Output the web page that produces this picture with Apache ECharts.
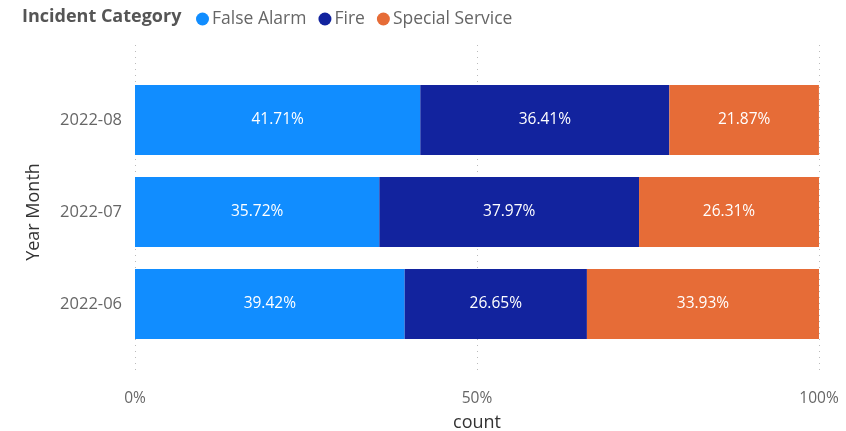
<!DOCTYPE html>
<html>
<head>
<meta charset="utf-8">
<script src="https://cdn.jsdelivr.net/npm/echarts@6/dist/echarts.min.js"></script>
<style>
  html, body { margin: 0; padding: 0; background: #fff; }
  #chart { width: 846px; height: 431px; }
</style>
</head>
<body>
<div id="chart"></div>
<script>
// year-months, bottom to top
var months = ['2022-06', '2022-07', '2022-08'];
var seriesNames = ['False Alarm', 'Fire', 'Special Service'];
var falseAlarm = [39.42, 35.72, 41.71];
var fire = [26.65, 37.97, 36.41];
var specialService = [33.93, 26.31, 21.87];
var xTicks = [0, 50, 100];

var colors = ['#118DFF', '#12239E', '#E66C37'];
var font = '"Open Sans", "Noto Sans", sans-serif';

function mkSeries(name, data, i) {
    return {
        name: name,
        type: 'bar',
        stack: 'total',
        barWidth: 70,
        xAxisIndex: 0,
        yAxisIndex: 0,
        data: data,
        itemStyle: { color: colors[i] },
        label: {
            show: true,
            position: 'inside',
            color: '#fff',
            fontFamily: font,
            fontSize: 15.5,
            formatter: function(p) { return p.value.toFixed(2) + '%'; }
        }
    };
}

var chart = echarts.init(document.getElementById('chart'));
chart.setOption({
    animation: false,
    textStyle: { fontFamily: font },
    title: {
        text: 'Incident Category',
        left: 17,
        top: 3,
        textStyle: { fontSize: 18, fontWeight: 'bold', color: '#555', fontFamily: font }
    },
    legend: {
        data: seriesNames,
        left: 191,
        top: 5,
        icon: 'circle',
        itemWidth: 13,
        itemHeight: 13,
        itemGap: 12,
        textStyle: { fontSize: 17.5, color: '#666', fontFamily: font, padding: [0, 0, 0, -2] }
    },
    grid: [
        { left: 135, right: 27, top: 74, height: 276, outerBoundsMode: 'none' },
        { left: 135, right: 27, top: 45, bottom: 61, outerBoundsMode: 'none' }
    ],
    xAxis: [
        {
            type: 'value', gridIndex: 0, min: 0, max: 100, interval: 50,
            axisLine: { show: false }, axisTick: { show: false },
            axisLabel: { show: false }, splitLine: { show: false }
        },
        {
            type: 'value', gridIndex: 1, min: 0, max: 100, interval: 50,
            name: 'count', nameLocation: 'middle', nameGap: 44,
            nameTextStyle: { fontSize: 18, color: '#333', fontFamily: font },
            axisLine: { show: false }, axisTick: { show: false },
            axisLabel: {
                color: '#666', fontSize: 15.5, margin: 21, fontFamily: font,
                formatter: function(v) { return v + '%'; },
                customValues: xTicks
            },
            splitLine: { show: true, lineStyle: { type: [1, 5], color: '#bbb', width: 1 } }
        }
    ],
    yAxis: [
        {
            type: 'category', gridIndex: 0, data: months,
            name: 'Year Month', nameLocation: 'middle', nameGap: 92,
            nameTextStyle: { fontSize: 18, color: '#333', fontFamily: font },
            axisLine: { show: false }, axisTick: { show: false },
            axisLabel: { color: '#666', fontSize: 16.5, margin: 13, fontFamily: font }
        },
        {
            type: 'category', gridIndex: 1, data: months, show: false
        }
    ],
    series: [
        mkSeries(seriesNames[0], falseAlarm, 0),
        mkSeries(seriesNames[1], fire, 1),
        mkSeries(seriesNames[2], specialService, 2)
    ]
});
</script>
</body>
</html>
